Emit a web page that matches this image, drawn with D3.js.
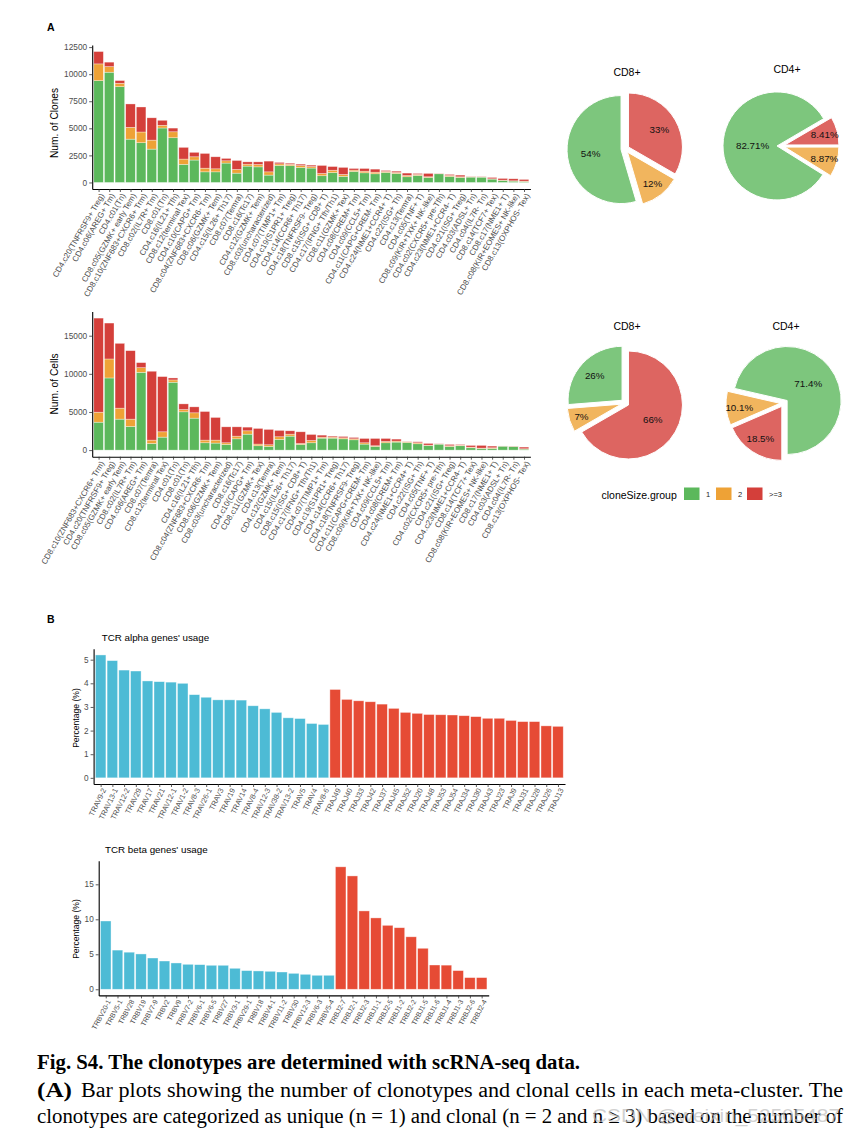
<!DOCTYPE html>
<html><head><meta charset="utf-8">
<script src="https://cdn.jsdelivr.net/npm/d3@7"></script>
<style>
body{margin:0;background:#fff}
svg{display:block;font-family:"Liberation Sans",Arial,sans-serif}
</style>
</head><body>
<svg id="c" width="852" height="1133"></svg>
<script>
// ---------------- DATA ----------------
const groups = ["1", "2", ">=3"];

const clonesClusters = ["CD4.c20(TNFRSF9+ Treg)","CD4.c06(AREG+ Tm)","CD4.c01(Tn)","CD8.c05(GZMK+ early Tem)","CD8.c10(ZNF683+CXCR6+ Trm)","CD8.c02(IL7R+ Tm)","CD8.c01(Tn)","CD4.c16(IL21+ Tfh)","CD8.c12(terminal Tex)","CD4.c10(CAPG+ Tm)","CD8.c04(ZNF683+CXCR6- Tm)","CD8.c06(GZMK+ Tem)","CD4.c15(IL26+ Th17)","CD8.c07(Temra)","CD8.c16(Tc17)","CD4.c12(GZMK+ Tem)","CD8.c03(uncharacterized)","CD4.c07(TIMP1+ Tm)","CD4.c19(S1PR1+ Treg)","CD4.c14(CCR6+ Th17)","CD4.c18(TNFRSF9- Treg)","CD8.c15(ISG+ CD8+ T)","CD4.c17(IFNG+ Tfh/Th1)","CD8.c11(GZMK+ Tex)","CD4.c08(CREM+ Tm)","CD4.c09(CCL5+ Tm)","CD4.c11(CAPG+CREM- Tm)","CD4.c24(NME1+CCR4+ T)","CD4.c22(ISG+ Th)","CD4.c13(Temra)","CD4.c05(TNF+ T)","CD8.c09(KIR+TXK+ NK-like)","CD4.c02(CXCR5+ pre-Tfh)","CD4.c23(NME1+CCR4- T)","CD4.c21(ISG+ Treg)","CD4.c03(ADSL+ Tn)","CD4.c04(IL7R- Tn)","CD8.c14(TCF7+ Tex)","CD8.c17(NME1+ T)","CD8.c08(KIR+EOMES+ NK-like)","CD8.c13(OXPHOS- Tex)"];
const clonesSize1 = [9400,10180,8850,4000,3670,3080,5030,4130,1670,2070,980,980,1790,860,1510,1440,680,1570,1545,1380,1330,620,910,560,1020,890,800,926,830,525,650,460,800,556,463,494,494,310,185,123,93];
const clonesSize2 = [1550,520,310,1090,990,830,250,550,490,300,340,280,210,340,180,220,300,150,130,180,140,210,220,180,120,150,150,90,90,120,90,65,20,90,60,30,10,30,30,30,30];
const clonesSize3 = [1140,410,250,2160,2310,2060,460,340,1080,410,1360,1110,220,830,210,240,990,130,100,130,130,740,340,650,150,250,280,90,120,220,90,310,15,95,155,30,25,120,155,185,155];
const clonesTicks = [0,2500,5000,7500,10000,12500];

const cellsClusters = ["CD8.c10(ZNF683+CXCR6+ Trm)","CD4.c20(TNFRSF9+ Treg)","CD8.c05(GZMK+ early Tem)","CD8.c02(IL7R+ Tm)","CD4.c06(AREG+ Tm)","CD8.c07(Temra)","CD8.c12(terminal Tex)","CD4.c01(Tn)","CD8.c01(Tn)","CD4.c16(IL21+ Tfh)","CD8.c04(ZNF683+CXCR6- Tm)","CD8.c06(GZMK+ Tem)","CD8.c03(uncharacterized)","CD8.c16(Tc17)","CD4.c10(CAPG+ Tm)","CD8.c11(GZMK+ Tex)","CD4.c13(Temra)","CD4.c12(GZMK+ Tem)","CD4.c15(IL26+ Th17)","CD8.c15(ISG+ CD8+ T)","CD4.c17(IFNG+ Tfh/Th1)","CD4.c07(TIMP1+ Tm)","CD4.c19(S1PR1+ Treg)","CD4.c14(CCR6+ Th17)","CD4.c18(TNFRSF9- Treg)","CD4.c11(CAPG+CREM- Tm)","CD8.c09(KIR+TXK+ NK-like)","CD4.c09(CCL5+ Tm)","CD4.c08(CREM+ Tm)","CD4.c24(NME1+CCR4+ T)","CD4.c22(ISG+ Th)","CD4.c05(TNF+ T)","CD4.c02(CXCR5+ pre-Tfh)","CD4.c21(ISG+ Treg)","CD4.c23(NME1+CCR4- T)","CD8.c14(TCF7+ Tex)","CD8.c08(KIR+EOMES+ NK-like)","CD8.c17(NME1+ T)","CD4.c03(ADSL+ Tn)","CD4.c04(IL7R- Tn)","CD8.c13(OXPHOS- Tex)"];
const cellsSize1 = [3660,9460,4060,3100,10200,870,1700,8900,5020,4190,960,920,740,1480,2090,570,480,1400,1830,740,960,1570,1570,1480,1350,785,480,960,1050,1000,830,610,785,480,570,305,220,220,520,480,130];
const cellsSize2 = [1310,2490,1440,960,610,440,700,300,300,700,350,390,220,350,440,220,220,350,260,130,300,130,130,130,130,175,90,175,130,90,130,45,20,90,85,85,45,85,10,20,45];
const cellsSize3 = [12340,4710,8500,8980,660,9030,7240,260,740,780,3750,2970,2090,1220,480,2050,2010,830,440,1530,790,260,130,175,175,565,955,390,260,45,130,220,25,175,85,220,350,220,10,25,220];
const cellsTicks = [0,5000,10000,15000];

const pieTitles = ["CD8+", "CD4+"];
// order of values: ">=3", "2", "1"
const clonesPieCD8 = [33, 12, 54];
const clonesPieCD4 = [8.41, 8.87, 82.71];
const cellsPieCD8 = [66, 7, 26];
const cellsPieCD4 = [18.5, 10.1, 71.4];
const pieLabelsClonesCD8 = ["33%", "12%", "54%"];
const pieLabelsClonesCD4 = ["8.41%", "8.87%", "82.71%"];
const pieLabelsCellsCD8 = ["66%", "7%", "26%"];
const pieLabelsCellsCD4 = ["18.5%", "10.1%", "71.4%"];

const traGenes = ["TRAV9-2","TRAV13-1","TRAV12-2","TRAV29","TRAV17","TRAV21","TRAV12-1","TRAV1-2","TRAV8-3","TRAV26-1","TRAV3","TRAV19","TRAV14","TRAV8-4","TRAV12-3","TRAV38-2","TRAV13-2","TRAV5","TRAV4","TRAV8-6","TRAJ49","TRAJ40","TRAJ33","TRAJ42","TRAJ37","TRAJ45","TRAJ52","TRAJ20","TRAJ48","TRAJ53","TRAJ54","TRAJ34","TRAJ30","TRAJ43","TRAJ23","TRAJ9","TRAJ31","TRAJ28","TRAJ26","TRAJ13"];
const traPercent = [5.2,4.96,4.56,4.52,4.1,4.07,4.05,4.0,3.52,3.41,3.3,3.3,3.29,3.05,2.92,2.77,2.54,2.51,2.3,2.26,3.74,3.32,3.26,3.22,3.12,2.94,2.77,2.73,2.68,2.67,2.66,2.63,2.59,2.52,2.52,2.43,2.38,2.38,2.2,2.18];
const traTicks = [0,1,2,3,4,5];

const trbGenes = ["TRBV20-1","TRBV5-1","TRBV28","TRBV19","TRBV7-9","TRBV2","TRBV9","TRBV7-2","TRBV6-1","TRBV6-5","TRBV27","TRBV3-1","TRBV29-1","TRBV18","TRBV4-1","TRBV11-2","TRBV30","TRBV12-3","TRBV6-3","TRBV5-4","TRBJ2-7","TRBJ2-1","TRBJ2-3","TRBJ1-1","TRBJ2-5","TRBJ1-2","TRBJ2-2","TRBJ1-5","TRBJ1-6","TRBJ1-4","TRBJ1-3","TRBJ2-6","TRBJ2-4"];
const trbPercent = [9.76,5.6,5.3,5.05,4.47,4.04,3.76,3.57,3.52,3.43,3.43,3.0,2.67,2.62,2.57,2.47,2.28,2.14,2.0,2.0,17.5,16.2,11.2,10.2,9.14,8.8,7.5,5.86,3.47,3.45,2.67,1.67,1.67];
const trbTicks = [0,5,10,15];

// ---------------- STYLE ----------------
const groupColors = {"1":"#5cb85c","2":"#eea236",">=3":"#d43f3a"};
const vColor = "#4DBBD5", jColor = "#E64B35";
const sans = '"Liberation Sans",Arial,sans-serif';
const svg = d3.select("#c");

function styleAxis(g, fs){
  g.attr("font-family",sans).attr("font-size",fs);
  g.select(".domain").attr("stroke","#000").attr("stroke-width",1.1);
  g.selectAll(".tick line").attr("stroke","#333").attr("stroke-width",0.8);
  g.selectAll(".tick text").attr("fill","#4d4d4d");
}

function xLabels(g, x, cats, yAnchor, fs, angle){
  g.selectAll("text.xl").data(cats).join("text").attr("class","xl")
    .attr("transform", d=>`translate(${x(d)+1},${yAnchor}) rotate(${-angle})`)
    .attr("text-anchor","end").attr("dy","0.72em")
    .attr("font-size",fs).attr("fill","#4d4d4d").text(d=>d);
}

function stackedChart(o){
  const g = svg.append("g");
  const rows = o.cats.map((c,i)=>({cat:c,"1":o.s1[i],"2":o.s2[i],">=3":o.s3[i]}));
  const max = d3.max(rows, r=>r["1"]+r["2"]+r[">=3"]);
  const y = d3.scaleLinear().domain([-0.05*max, 1.05*max]).range([o.yBottom, o.yTop]);
  const x = d3.scalePoint().domain(o.cats).range([o.left, o.right]).padding(0.6);
  const bw = x.step()*0.9;
  const stack = d3.stack().keys(groups)(rows);
  g.selectAll("g.layer").data(stack).join("g").attr("class","layer")
    .attr("fill", d=>groupColors[d.key])
    .selectAll("rect").data(d=>d).join("rect")
    .attr("x", d=>x(d.data.cat)-bw/2).attr("width", bw)
    .attr("y", d=>y(d[1])).attr("height", d=>y(d[0])-y(d[1]))
    .attr("stroke","#fff").attr("stroke-opacity",0.55).attr("stroke-width",0.6);
  const ya = g.append("g").attr("transform",`translate(${o.left},0)`)
    .call(d3.axisLeft(y).tickValues(o.ticks).tickFormat(d3.format("d")).tickSize(3).tickPadding(2).tickSizeOuter(0));
  styleAxis(ya, 8.3);
  const xa = g.append("g").attr("transform",`translate(0,${o.yBottom})`)
    .call(d3.axisBottom(x).tickSize(3).tickSizeOuter(0).tickFormat(""));
  styleAxis(xa, 7);
  xLabels(g, x, o.cats, o.yBottom+3.5, 8.0, 60);
  g.append("text").attr("transform",`translate(${o.titleX},${o.titleY}) rotate(-90)`)
    .attr("text-anchor","middle").attr("dominant-baseline","central")
    .attr("font-size",10.2).attr("fill","#000").text(o.title);
}

stackedChart({cats:clonesClusters, s1:clonesSize1, s2:clonesSize2, s3:clonesSize3, ticks:clonesTicks,
  left:92.2, right:530.4, yBottom:189, yTop:45, title:"Num. of Clones", titleX:54, titleY:123});
stackedChart({cats:cellsClusters, s1:cellsSize1, s2:cellsSize2, s3:cellsSize3, ticks:cellsTicks,
  left:92.2, right:530.4, yBottom:456.7, yTop:311.5, title:"Num. of Cells", titleX:54, titleY:384});

// panel letters
svg.append("text").attr("x",47).attr("y",31).attr("font-size",10.5).attr("font-weight","bold").text("A");
svg.append("text").attr("x",47).attr("y",623).attr("font-size",10.5).attr("font-weight","bold").text("B");

// ---------------- PIES ----------------
function pie(o){
  const g = svg.append("g").attr("transform",`translate(${o.cx},${o.cy})`);
  const total = d3.sum(o.values);
  const start = o.start*Math.PI/180;
  const arcs = d3.pie().sort(null).startAngle(start).endAngle(start+2*Math.PI)(o.values);
  const keys = [">=3","2","1"];
  const R = 54, off = 4;
  const arc = d3.arc().innerRadius(0).outerRadius(R);
  arcs.forEach((a,i)=>{
    const mid = (a.startAngle+a.endAngle)/2;
    const ox = Math.sin(mid)*off, oy = -Math.cos(mid)*off;
    g.append("path").attr("d",arc(a)).attr("transform",`translate(${ox},${oy})`)
      .attr("fill",groupColors[keys[i]]).attr("fill-opacity",0.8)
      .attr("stroke","#fff").attr("stroke-width",1);
    const f = o.values[i]/total;
    const r = R*(0.8-0.42*f);
    g.append("text").attr("x",ox+Math.sin(mid)*r).attr("y",oy-Math.cos(mid)*r)
      .attr("text-anchor","middle").attr("dominant-baseline","central")
      .attr("font-size",9.8).attr("fill","#111").text(o.labels[i]);
  });
  g.append("text").attr("x",o.tx-o.cx).attr("y",-R-19).attr("text-anchor","middle")
    .attr("font-size",10.5).attr("fill","#000").text(o.title);
}
pie({cx:625, cy:149, tx:627, start:0, values:clonesPieCD8, labels:pieLabelsClonesCD8, title:pieTitles[0]});
pie({cx:781, cy:146, tx:787, start:59.7, values:clonesPieCD4, labels:pieLabelsClonesCD4, title:pieTitles[1]});
pie({cx:625, cy:403, tx:627, start:0, values:cellsPieCD8, labels:pieLabelsCellsCD8, title:pieTitles[0]});
pie({cx:784, cy:403, tx:786, start:180, values:cellsPieCD4, labels:pieLabelsCellsCD4, title:pieTitles[1]});

// legend
const lg = svg.append("g");
lg.append("text").attr("x",601.5).attr("y",498.5).attr("font-size",10.5).text("cloneSize.group");
const legX = [684, 716, 747];
groups.forEach((k,i)=>{
  lg.append("rect").attr("x",legX[i]).attr("y",487.5).attr("width",15.5).attr("height",12.5).attr("fill",groupColors[k]);
  lg.append("text").attr("x",legX[i]+22).attr("y",497).attr("font-size",7.5).attr("fill","#222").text(k);
});

// ---------------- TCR BAR CHARTS ----------------
function geneChart(o){
  const g = svg.append("g");
  const max = d3.max(o.values);
  const y = d3.scaleLinear().domain([-0.05*max, 1.05*max]).range([o.yBottom, o.yTop]);
  const x = d3.scalePoint().domain(o.genes).range([o.left, o.right]).padding(0.6);
  const bw = x.step()*0.9;
  g.selectAll("rect").data(o.genes).join("rect")
    .attr("x", d=>x(d)-bw/2).attr("width", bw)
    .attr("y", (d,i)=>y(o.values[i])).attr("height",(d,i)=>y(0)-y(o.values[i]))
    .attr("fill", d=>d.startsWith(o.vPrefix)?vColor:jColor)
    .attr("stroke","#fff").attr("stroke-opacity",0.55).attr("stroke-width",0.7);
  const ya = g.append("g").attr("transform",`translate(${o.left},0)`)
    .call(d3.axisLeft(y).tickValues(o.ticks).tickFormat(d3.format("d")).tickSize(3).tickPadding(2).tickSizeOuter(0));
  styleAxis(ya, 8.2);
  const xa = g.append("g").attr("transform",`translate(0,${o.yBottom})`)
    .call(d3.axisBottom(x).tickSize(3).tickSizeOuter(0).tickFormat(""));
  styleAxis(xa, 6.5);
  xLabels(g, x, o.genes, o.yBottom+3.5, o.labelSize, o.labelAngle);
  g.append("text").attr("transform",`translate(${o.ytX},${o.ytY}) rotate(-90)`)
    .attr("text-anchor","middle").attr("dominant-baseline","central")
    .attr("font-size",8.6).attr("fill","#000").text("Percentage (%)");
  g.append("text").attr("x",o.titleX).attr("y",o.titleY).attr("font-size",9.8).attr("fill","#000").text(o.title);
}
geneChart({genes:traGenes, values:traPercent, ticks:traTicks, vPrefix:"TRAV",
  left:93.6, right:565, yBottom:784, yTop:648.8, ytX:75.7, ytY:718, labelSize:7.4, labelAngle:64,
  title:"TCR alpha genes' usage", titleX:101.7, titleY:640.5});
geneChart({genes:trbGenes, values:trbPercent, ticks:trbTicks, vPrefix:"TRBV",
  left:98.7, right:488.7, yBottom:995.4, yTop:860.7, ytX:75.7, ytY:929, labelSize:7.0, labelAngle:62,
  title:"TCR beta genes' usage", titleX:105, titleY:852.5});

// ---------------- CAPTION ----------------
const serif = '"Liberation Serif","Times New Roman",serif';
function cap(x, y, w, txt, bold){
  svg.append("text").attr("x",x).attr("y",y).style("font-family",serif)
    .attr("font-weight",bold?"bold":"normal").attr("font-size",20.5)
    .attr("textLength",w).attr("lengthAdjust","spacingAndGlyphs").text(txt);
}
cap(37, 1069, 543, "Fig. S4. The clonotypes are determined with scRNA-seq data.", true);
cap(37, 1096.5, 35, "(A)", true);
cap(81, 1096.5, 762, "Bar plots showing the number of clonotypes and clonal cells in each meta-cluster. The", false);
cap(37, 1123, 806, "clonotypes are categorized as unique (n = 1) and clonal (n = 2 and n \u2265 3) based on the number of", false);
svg.append("text").attr("x",592).attr("y",1122).attr("font-family",sans)
  .attr("font-size",18).attr("fill","#bdbdbd").attr("fill-opacity",0.7)
  .attr("textLength",248).attr("lengthAdjust","spacingAndGlyphs")
  .text("CSDN @weixin_52505487");
</script>
</body></html>
